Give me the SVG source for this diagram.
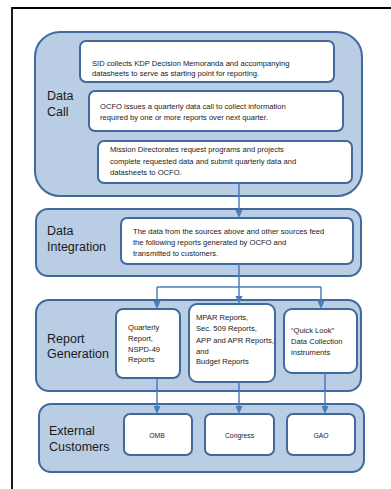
<svg xmlns="http://www.w3.org/2000/svg" width="391" height="489" viewBox="0 0 391 489">
<defs>
<style>
.frame{fill:none;stroke:#000;stroke-width:1.8}
.grp{fill:#b9cde5;stroke:#41699c;stroke-width:2}
.box{fill:#fff;stroke:#41699c;stroke-width:2}
.lbl{font-family:"Liberation Sans",Arial,sans-serif;font-size:12.5px;fill:#1a1a1a}
.t{font-family:"Liberation Sans",Arial,sans-serif;font-size:7.6px;fill:#1a1a1a}
.s{font-family:"Liberation Sans",Arial,sans-serif;font-size:6.8px;fill:#1a1a1a;text-anchor:middle}
.c{fill:none;stroke:#4a7ebb;stroke-width:1.5}
</style>
<marker id="ah" markerWidth="8" markerHeight="8" refX="4" refY="4" orient="auto" markerUnits="userSpaceOnUse">
<path d="M0,0.5 L8,4 L0,7.5 Z" fill="#4a7ebb"/>
</marker>
</defs>
<path class="frame" d="M12,489 V8 H391"/>

<g id="data-call">
<rect class="grp" x="35" y="32" width="327" height="164" rx="25"/>
<text class="lbl" x="47" y="100">Data</text>
<text class="lbl" x="47" y="116">Call</text>
</g>
<g id="sid">
<rect class="box" x="80" y="41" width="254" height="41" rx="6"/>
<text class="t" x="92" y="66">SID collects KDP Decision Memoranda and accompanying</text>
<text class="t" x="92" y="76">datasheets to serve as starting point for reporting.</text>
</g>
<g id="ocfo">
<rect class="box" x="89" y="91" width="254" height="40" rx="6"/>
<text class="t" x="100" y="109">OCFO issues a quarterly data call to collect information</text>
<text class="t" x="100" y="120">required by one or more reports over next quarter.</text>
</g>
<g id="mission">
<rect class="box" x="98" y="141" width="254" height="42" rx="6"/>
<text class="t" x="110" y="152">Mission  Directorates request programs and projects</text>
<text class="t" x="110" y="164">complete  requested data and submit quarterly data and</text>
<text class="t" x="110" y="175">datasheets to OCFO.</text>
</g>

<g id="data-integration">
<rect class="grp" x="36" y="209" width="325" height="67" rx="12"/>
<text class="lbl" x="47" y="235">Data</text>
<text class="lbl" x="47" y="251">Integration</text>
</g>
<g id="integration-box">
<rect class="box" x="121" y="218" width="232" height="46" rx="6"/>
<text class="t" x="133" y="234">The data from the sources above and other sources feed</text>
<text class="t" x="133" y="245">the following reports generated by OCFO and</text>
<text class="t" x="133" y="256">transmitted to customers.</text>
</g>

<g id="report-generation">
<rect class="grp" x="36" y="300" width="325" height="91" rx="13"/>
<text class="lbl" x="47" y="343">Report</text>
<text class="lbl" x="47" y="358">Generation</text>
</g>
<g id="quarterly">
<rect class="box" x="116" y="309" width="64" height="69" rx="7"/>
<text class="t" x="128" y="330">Quarterly</text>
<text class="t" x="128" y="341">Report,</text>
<text class="t" x="128" y="352">NSPD-49</text>
<text class="t" x="128" y="362">Reports</text>
</g>
<g id="mpar">
<rect class="box" x="189" y="304" width="86" height="78" rx="8"/>
<text class="t" x="196" y="320">MPAR Reports,</text>
<text class="t" x="196" y="331">Sec. 509 Reports,</text>
<text class="t" x="196" y="343">APP and APR Reports,</text>
<text class="t" x="196" y="354">and</text>
<text class="t" x="196" y="364">Budget Reports</text>
</g>
<g id="quicklook">
<rect class="box" x="284" y="309" width="73" height="64" rx="8"/>
<text class="t" x="291" y="333">“Quick Look”</text>
<text class="t" x="291" y="344">Data Collection</text>
<text class="t" x="291" y="355">instruments</text>
</g>

<g id="external-customers">
<rect class="grp" x="39" y="404" width="325" height="68" rx="12"/>
<text class="lbl" x="49" y="435">External</text>
<text class="lbl" x="49" y="451">Customers</text>
</g>
<g id="omb">
<rect class="box" x="124" y="414" width="68" height="41" rx="6"/>
<text class="s" x="157" y="438">OMB</text>
</g>
<g id="congress">
<rect class="box" x="205" y="414" width="69" height="41" rx="6"/>
<text class="s" x="239.5" y="438">Congress</text>
</g>
<g id="gao">
<rect class="box" x="287" y="414" width="68" height="41" rx="6"/>
<text class="s" x="321" y="438">GAO</text>
</g>

<g id="connectors">
<path class="c" d="M239,183 V214" marker-end="url(#ah)"/>
<path class="c" d="M239,264 V287 M157,287 H321"/>
<path class="c" d="M157,287 V305" marker-end="url(#ah)"/>
<path class="c" d="M239,287 V300" marker-end="url(#ah)"/>
<path class="c" d="M321,287 V305" marker-end="url(#ah)"/>
<path class="c" d="M157,378 V410" marker-end="url(#ah)"/>
<path class="c" d="M239,382 V410" marker-end="url(#ah)"/>
<path class="c" d="M325,373 V410" marker-end="url(#ah)"/>
</g>
</svg>
